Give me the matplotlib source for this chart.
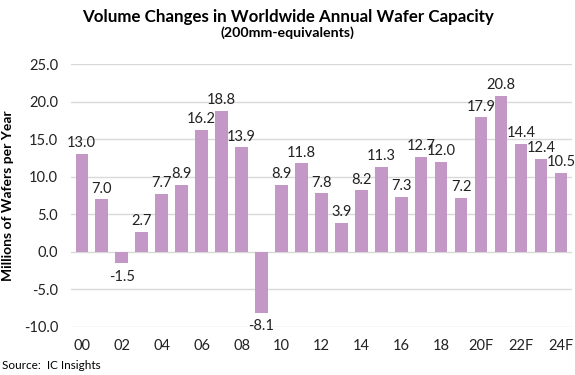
import matplotlib
matplotlib.use("Agg")
import matplotlib.pyplot as plt
import numpy as np

categories = ["00", "01", "02", "03", "04", "05", "06", "07", "08", "09",
              "10", "11", "12", "13", "14", "15", "16", "17", "18", "19",
              "20F", "21F", "22F", "23F", "24F"]
values = [13.0, 7.0, -1.5, 2.7, 7.7, 8.9, 16.2, 18.8, 13.9, -8.1,
          8.9, 11.8, 7.8, 3.9, 8.2, 11.3, 7.3, 12.7, 12.0, 7.2,
          17.9, 20.8, 14.4, 12.4, 10.5]
yticks = [-10, -5, 0, 5, 10, 15, 20, 25]

plt.rcParams['font.family'] = ['Lato', 'DejaVu Sans']

fig = plt.figure(figsize=(5.75, 3.75), dpi=100)
ax = fig.add_axes([0.123, 0.128, 0.872, 0.701])

x = np.arange(len(categories))
ax.bar(x, values, width=0.62, color="#C397C6", zorder=3)

for xi, v in zip(x, values):
    if v >= 0:
        ax.text(xi, v + 0.5, f"{v:.1f}", ha="center", va="bottom", fontsize=10.5, color="#222222")
    else:
        ax.text(xi, v - 0.9, f"{v:.1f}", ha="center", va="top", fontsize=10.5, color="#222222")

ax.set_ylim(-10, 25)
ax.set_xlim(-0.55, len(categories) - 0.45)
ax.set_yticks(yticks)
ax.set_yticklabels([f"{t:.1f}" for t in yticks], fontsize=10.5, color="#222222")
ax.set_xticks(x[::2])
ax.set_xticklabels(categories[::2], fontsize=10.5, color="#222222")
ax.tick_params(length=0, pad=9)
ax.yaxis.grid(True, color="#D9D9D9", linewidth=1.0, zorder=0)
for s in ax.spines.values():
    s.set_visible(False)
ax.set_ylabel("Millions of Wafers per Year", fontsize=10, fontweight="bold", labelpad=7)

fig.text(0.5, 0.955, "Volume Changes in Worldwide Annual Wafer Capacity",
         ha="center", va="center", fontsize=12.2, fontweight="bold")
fig.text(0.5, 0.913, "(200mm-equivalents)", ha="center", va="center",
         fontsize=10.2, fontweight="bold")
fig.text(0.004, 0.025, "Source:  IC Insights", ha="left", va="center", fontsize=8.5)

fig.savefig("out.png", dpi=100)
